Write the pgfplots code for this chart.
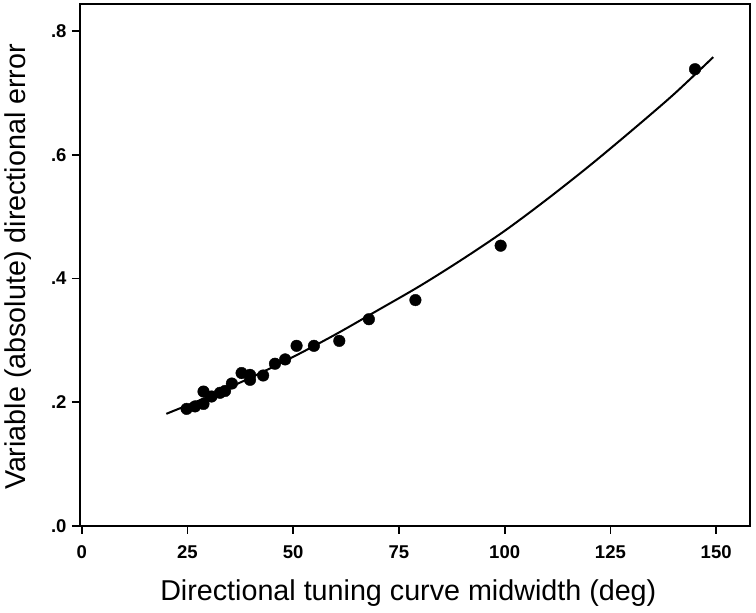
\documentclass[border=0pt]{standalone}
\usepackage{fontspec}
\setmainfont{Liberation Sans}
\usepackage{pgfplots}
\pgfplotsset{compat=1.18}
\begin{document}
\begin{tikzpicture}
\begin{axis}[
  scale only axis,
  width=670pt, height=521.7pt,
  xmin=-0.4, xmax=158, ymin=0, ymax=0.844,
  xtick={0,25,50,75,100,125,150},
  xticklabels={0,25,50,75,100,125,150},
  ytick={0,0.2,0.4,0.6,0.8},
  yticklabels={.0,.2,.4,.6,.8},
  tick align=outside,
  tick pos=left,
  major tick length=8pt,
  major tick style={black, line width=1.8pt},
  axis line style={black, line width=1.8pt},
  ticklabel style={font=\bfseries\fontsize{18.5}{18.5}\selectfont},
  xticklabel style={yshift=-8.5pt},
  yticklabel style={xshift=-2pt},
  xlabel={Directional tuning curve midwidth (deg)},
  ylabel={Variable (absolute) directional error},
  xlabel style={font=\fontsize{28.7}{28.7}\selectfont, at={(axis description cs:0.49,0)}, anchor=base, yshift=-75pt},
  ylabel style={font=\fontsize{28.7}{28.7}\selectfont, at={(axis description cs:-0.082,0.496)}, anchor=base},
  clip=false,
]
\addplot[black, line width=2pt, smooth] coordinates {
 (20,0.181) (30,0.2089) (40,0.2396) (50,0.2731) (60,0.3094) (70,0.3485)
 (80,0.388) (90,0.431) (100,0.477) (110,0.528) (120,0.582) (130,0.639)
 (140,0.698) (149.3,0.758)
};
\addplot[only marks, mark=*, mark size=5.8pt, black] coordinates {
 (24.8,0.189) (26.8,0.193) (28.8,0.197) (28.8,0.217) (30.7,0.209)
 (32.7,0.215) (33.9,0.218) (35.5,0.230) (37.8,0.247) (39.8,0.244)
 (39.8,0.236) (42.9,0.243) (45.7,0.262) (48.1,0.269) (50.8,0.291)
 (54.9,0.291) (60.9,0.299) (67.9,0.334) (78.9,0.365) (99.05,0.453)
 (145,0.7385)
};
\end{axis}
\pgfresetboundingbox
\path[use as bounding box] ([shift={(-80pt,-87.3pt)}]current axis.south west) rectangle ([shift={(6pt,4pt)}]current axis.north east);
\end{tikzpicture}
\end{document}
